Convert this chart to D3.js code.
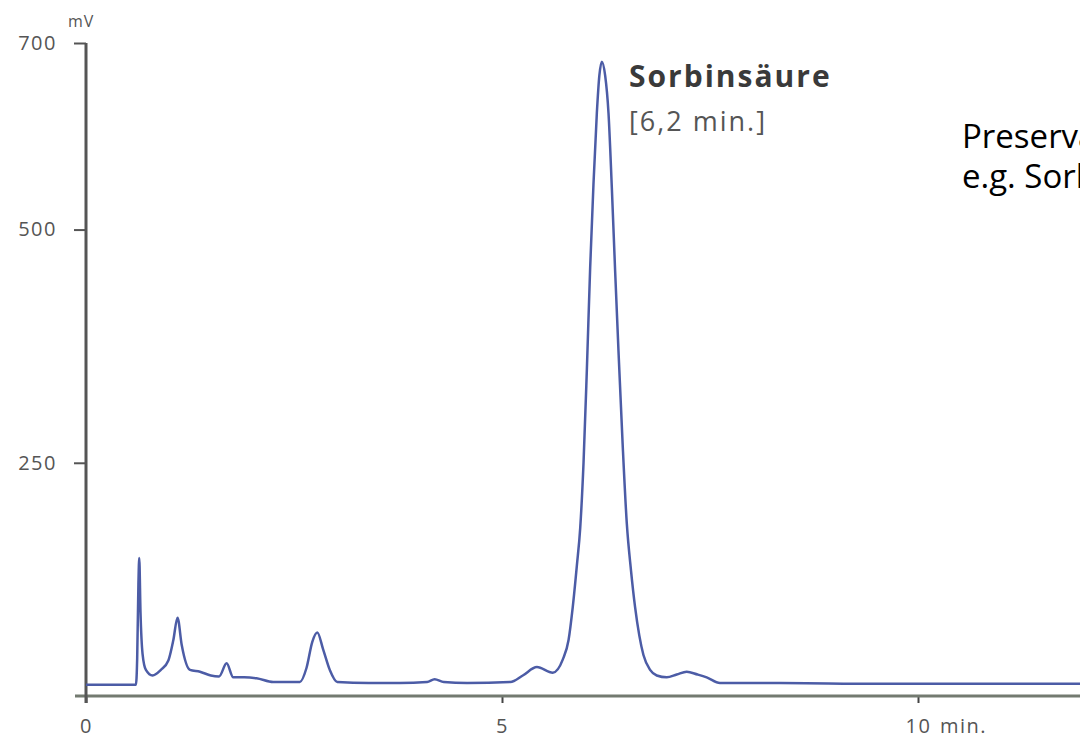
<!DOCTYPE html>
<html>
<head>
<meta charset="utf-8">
<script src="https://cdn.jsdelivr.net/npm/d3@7"></script>
<style>
  html, body { margin: 0; padding: 0; background: #ffffff; }
  svg { display: block; }
  .tick-label { font-family: "Open Sans", sans-serif; fill: #555; }
</style>
</head>
<body>
<svg id="chart" width="1080" height="741"></svg>
<script>
// Retention time (min) and detector signal (mV) of the chromatogram
const times = [0, 0.6, 0.615, 0.63, 0.64, 0.655, 0.68, 0.72, 0.8, 0.9, 0.99, 1.05, 1.1, 1.15, 1.25,
  1.37, 1.5, 1.6, 1.69, 1.77, 1.9, 2.05, 2.25, 2.57, 2.65, 2.72, 2.78, 2.85, 2.93, 3.02, 3.4, 3.77,
  4.1, 4.19, 4.3, 4.58, 5.1, 5.25, 5.42, 5.61, 5.73, 5.8, 5.85, 5.9, 5.94, 5.98, 6.02, 6.06, 6.1,
  6.14, 6.17, 6.2, 6.24, 6.28, 6.32, 6.36, 6.4, 6.45, 6.5, 6.55, 6.6, 6.65, 6.7, 6.78, 6.86, 6.98,
  7.1, 7.22, 7.35, 7.46, 7.62, 8.34, 9.5, 10.5, 12];
const signal = [12, 12, 40, 120, 148, 90, 45, 28, 22, 28, 38, 60, 84, 55, 28,
  26, 22, 21, 35, 20, 20, 19, 15, 15, 30, 58, 68, 50, 28, 15, 14, 14,
  15, 18, 15, 14, 15, 22, 31, 25, 39, 60, 95, 140, 180, 250, 350, 460, 550,
  625, 665, 680, 665, 625, 545, 455, 370, 270, 185, 135, 95, 65, 44, 28, 22, 20,
  23, 26, 23, 20, 14, 14, 13, 13, 13];

const yTicks = [250, 500, 700];
const xTicks = [0, 5, 10];
const xUnit = "min.";
const yUnit = "mV";
const peakName = "Sorbinsäure";
const peakTime = "[6,2 min.]";
const noteLines = ["Preservatives", "e.g. Sorbic acid"];

const svg = d3.select("#chart");

const x = d3.scaleLinear().domain([0, 10]).range([86, 918]);
const y = d3.scaleLinear().domain([0, 700]).range([696, 43]);

// Y axis: ticks on the left, labels right-aligned
const yAxis = d3.axisLeft(y).tickValues(yTicks).tickSize(12).tickPadding(17);
const gy = svg.append("g").attr("transform", `translate(${x(0)},0)`).call(yAxis);
gy.select(".domain").remove();
gy.selectAll(".tick line").attr("stroke", "#555").attr("stroke-width", 2);
gy.selectAll(".tick text").attr("class", "tick-label")
  .style("font-size", "20px").style("letter-spacing", "1.5px");

// X axis: short ticks below
const xAxis = d3.axisBottom(x).tickValues(xTicks).tickSize(7).tickPadding(16);
const gx = svg.append("g").attr("transform", `translate(0,${y(0)})`).call(xAxis);
gx.select(".domain").remove();
gx.selectAll(".tick line").attr("stroke", "#444").attr("stroke-width", 2);
gx.selectAll(".tick text").attr("class", "tick-label")
  .style("font-size", "20px").style("letter-spacing", "1.5px");

// Axis lines
svg.append("line")
  .attr("x1", x(0) - 11).attr("x2", 1080)
  .attr("y1", y(0)).attr("y2", y(0))
  .attr("stroke", "#737a70").attr("stroke-width", 3);
svg.append("line")
  .attr("x1", x(0)).attr("x2", x(0))
  .attr("y1", y(700)).attr("y2", y(0) + 7)
  .attr("stroke", "#555").attr("stroke-width", 3);

// Units
svg.append("text").attr("class", "tick-label")
  .attr("x", 68).attr("y", 27)
  .style("font-size", "16px").style("letter-spacing", "1px")
  .text(yUnit);
svg.append("text").attr("class", "tick-label")
  .attr("x", x(10) + 22).attr("y", y(0) + 23).attr("dy", "0.71em")
  .style("font-size", "20px").style("letter-spacing", "1.5px")
  .text(xUnit);

// Chromatogram trace
const line = d3.line()
  .x((d, i) => x(times[i]))
  .y(d => y(d))
  .curve(d3.curveMonotoneX);
svg.append("path")
  .datum(signal)
  .attr("d", line)
  .attr("fill", "none")
  .attr("stroke", "#4c5ca6")
  .attr("stroke-width", 2.5)
  .attr("stroke-linejoin", "round");

// Peak annotation
svg.append("text")
  .attr("x", 629).attr("y", 87)
  .style("font-family", "'Open Sans', sans-serif")
  .style("font-weight", "700")
  .style("font-size", "30px")
  .style("letter-spacing", "2px")
  .style("fill", "#3a3a3a")
  .text(peakName);
svg.append("text")
  .attr("x", 629).attr("y", 131)
  .style("font-family", "'Open Sans', sans-serif")
  .style("font-size", "27px")
  .style("letter-spacing", "2px")
  .style("fill", "#555")
  .text(peakTime);

// Side note
const note = svg.append("text")
  .style("font-family", "'Open Sans', sans-serif")
  .style("font-size", "33px")
  .style("fill", "#000");
noteLines.forEach((t, i) => {
  note.append("tspan").attr("x", 962).attr("y", 148 + i * 40).text(t);
});
</script>
</body>
</html>
